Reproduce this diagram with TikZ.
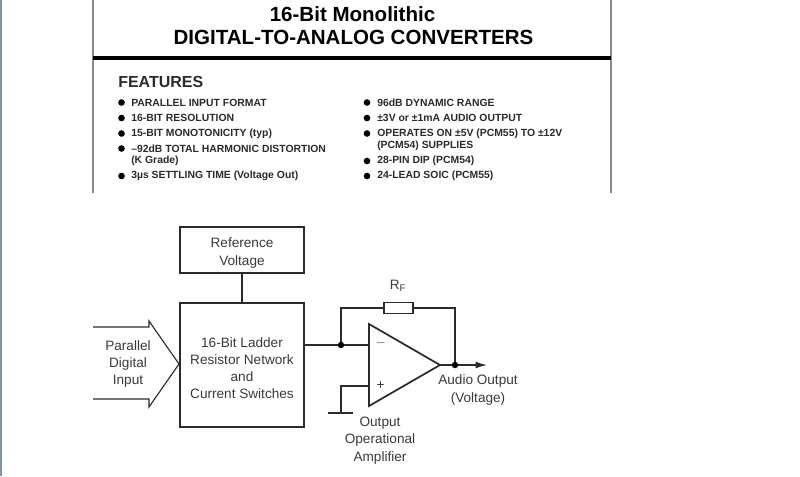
\documentclass[tikz,border=0pt]{standalone}
\usepackage{fontspec}
\setmainfont{Liberation Sans}
\usetikzlibrary{arrows.meta}
\newcommand{\fs}[1]{\fontsize{#1}{#1}\selectfont}
\definecolor{ink}{HTML}{2B2B2B}
\definecolor{txt}{HTML}{3A3A3A}
\definecolor{strip}{HTML}{8493AA}
\tikzset{
  title/.style={font=\fs{15.4pt}\bfseries,text=black,inner sep=0,anchor=center},
  feat/.style={font=\fs{7.8pt}\bfseries,text=ink,inner sep=0,anchor=west},
  head/.style={font=\fs{12pt}\bfseries,text=ink,inner sep=0,anchor=west},
  dotb/.style={circle,fill=black,inner sep=0,minimum size=4.8pt},
  bul/.style={circle,fill=black,inner sep=0,minimum size=5pt},
  lab/.style={font=\fs{10.2pt},text=txt,inner sep=0,anchor=center,align=center},
  blk/.style={draw=ink,line width=1.3pt,inner sep=0,fill=white},
  wire/.style={draw=ink,line width=0.85pt},
  edge/.style={draw=black!45,line width=1pt}
}
\begin{document}
\begin{tikzpicture}[x=0.75pt,y=-0.75pt]
\useasboundingbox (0,0) rectangle (800,476);
\fill[white] (0,0) rectangle (800,476);
\fill[strip] (0,0) rectangle (1.5,476);
% page frame
\coordinate (ftl) at (93,0); \coordinate (fbl) at (93,193);
\coordinate (ftr) at (611,0); \coordinate (fbr) at (611,193);
\coordinate (rl) at (93,58); \coordinate (rr) at (611,58);
\draw[edge] (ftl) -- (fbl);
\draw[edge] (ftr) -- (fbr);
\draw[black,line width=3.4pt] (rl) -- (rr);
\node[title] (t1) at (352.5,14) {16-Bit Monolithic};
\node[title] (t2) at (353.5,37.5) {DIGITAL-TO-ANALOG CONVERTERS};
\node[head] (fh) at (118,82) {FEATURES};
% features left
\foreach \n/\y/\t in {a/102.5/PARALLEL INPUT FORMAT,b/118/16-BIT RESOLUTION,c/133.5/15-BIT MONOTONICITY (typ),d/148.5/–92dB TOTAL HARMONIC DISTORTION,f/176/3µs SETTLING TIME (Voltage Out)}{
  \node[bul] (bl\n) at (121.5,\y) {};
  \node[feat] (tl\n) at (131,\y) {\t};
}
\node[feat] (tle) at (131,161) {(K Grade)};
% features right
\foreach \n/\y/\t in {a/102.5/96dB DYNAMIC RANGE,b/118/±3V or ±1mA AUDIO OUTPUT,c/133.5/OPERATES ON ±5V (PCM55) TO ±12V,e/161/28-PIN DIP (PCM54),f/176/24-LEAD SOIC (PCM55)}{
  \node[bul] (br\n) at (367,\y) {};
  \node[feat] (tr\n) at (377,\y) {\t};
}
\node[feat] (trd) at (377,146) {(PCM54) SUPPLIES};
% blocks
\node[blk,minimum width=93pt,minimum height=34.5pt] (ref) at (242,250) {};
\node[lab] (reft) at (242,253) {Reference\\[2.7pt]Voltage};
\node[blk,minimum width=93pt,minimum height=93pt] (lad) at (242,365) {};
\node[lab] (ladt) at (242,368) {16-Bit Ladder\\[2.7pt]Resistor Network\\[2.7pt]and\\[2.7pt]Current Switches};
\draw[wire] (ref) -- (lad);
% input arrow
\coordinate (ia) at (93,327); \coordinate (ib) at (149,327); \coordinate (ic) at (149,321);
\coordinate (id) at (179,364); \coordinate (ie) at (149,407); \coordinate (if) at (149,399); \coordinate (ig) at (93,399);
\draw[wire,line join=miter] (ia) -- (ib) -- (ic) -- (id) -- (ie) -- (if) -- (ig);
\node[lab] (int) at (128,364) {Parallel\\[2.7pt]Digital\\[2.7pt]Input};
% op amp
\coordinate (oa) at (369,324); \coordinate (ob) at (369,406); \coordinate (oc) at (440,365);
\draw[draw=ink,line width=1.3pt,line join=miter] (oa) -- (ob) -- (oc) -- cycle;
\coordinate (inm) at (369,345); \coordinate (inp) at (369,386);
\node[dotb] (j1) at (341,345) {};
\node[dotb] (j2) at (455,365) {};
\coordinate (lout) at (lad.east |- inm);
\draw[wire] (lout) -- (j1) -- (inm);
\draw[wire] (oc) -- (j2);
\coordinate (oe) at (487,365);
\draw[wire,-{Latex[length=8.5pt,width=5pt]}] (j2) -- (oe);
\node[draw=ink,line width=0.85pt,inner sep=0,fill=white,minimum width=21.8pt,minimum height=8.6pt] (rf) at (398.5,308) {};
\coordinate (c1) at (341,308); \coordinate (c2) at (455,308);
\draw[wire] (j1) -- (c1) -- (rf.west);
\draw[wire] (rf.east) -- (c2) -- (j2);
\node[lab] (rft) at (398,286) {R\textsubscript{F}};
% plus input and ground
\coordinate (g1) at (341,386); \coordinate (g2) at (341,413);
\coordinate (gl) at (328,413); \coordinate (gr) at (353,413);
\draw[wire] (inp) -- (g1) -- (g2);
\draw[wire] (gl) -- (gr);
\node[lab,text=black!45] (minus) at (381,345) {–};
\node[lab] (plus) at (380.5,386) {+};
\node[lab] (aud) at (478,390) {Audio Output\\[2.7pt](Voltage)};
\node[lab] (opt) at (380,440.5) {Output\\[2.7pt]Operational\\[2.7pt]Amplifier};
\end{tikzpicture}
\end{document}
